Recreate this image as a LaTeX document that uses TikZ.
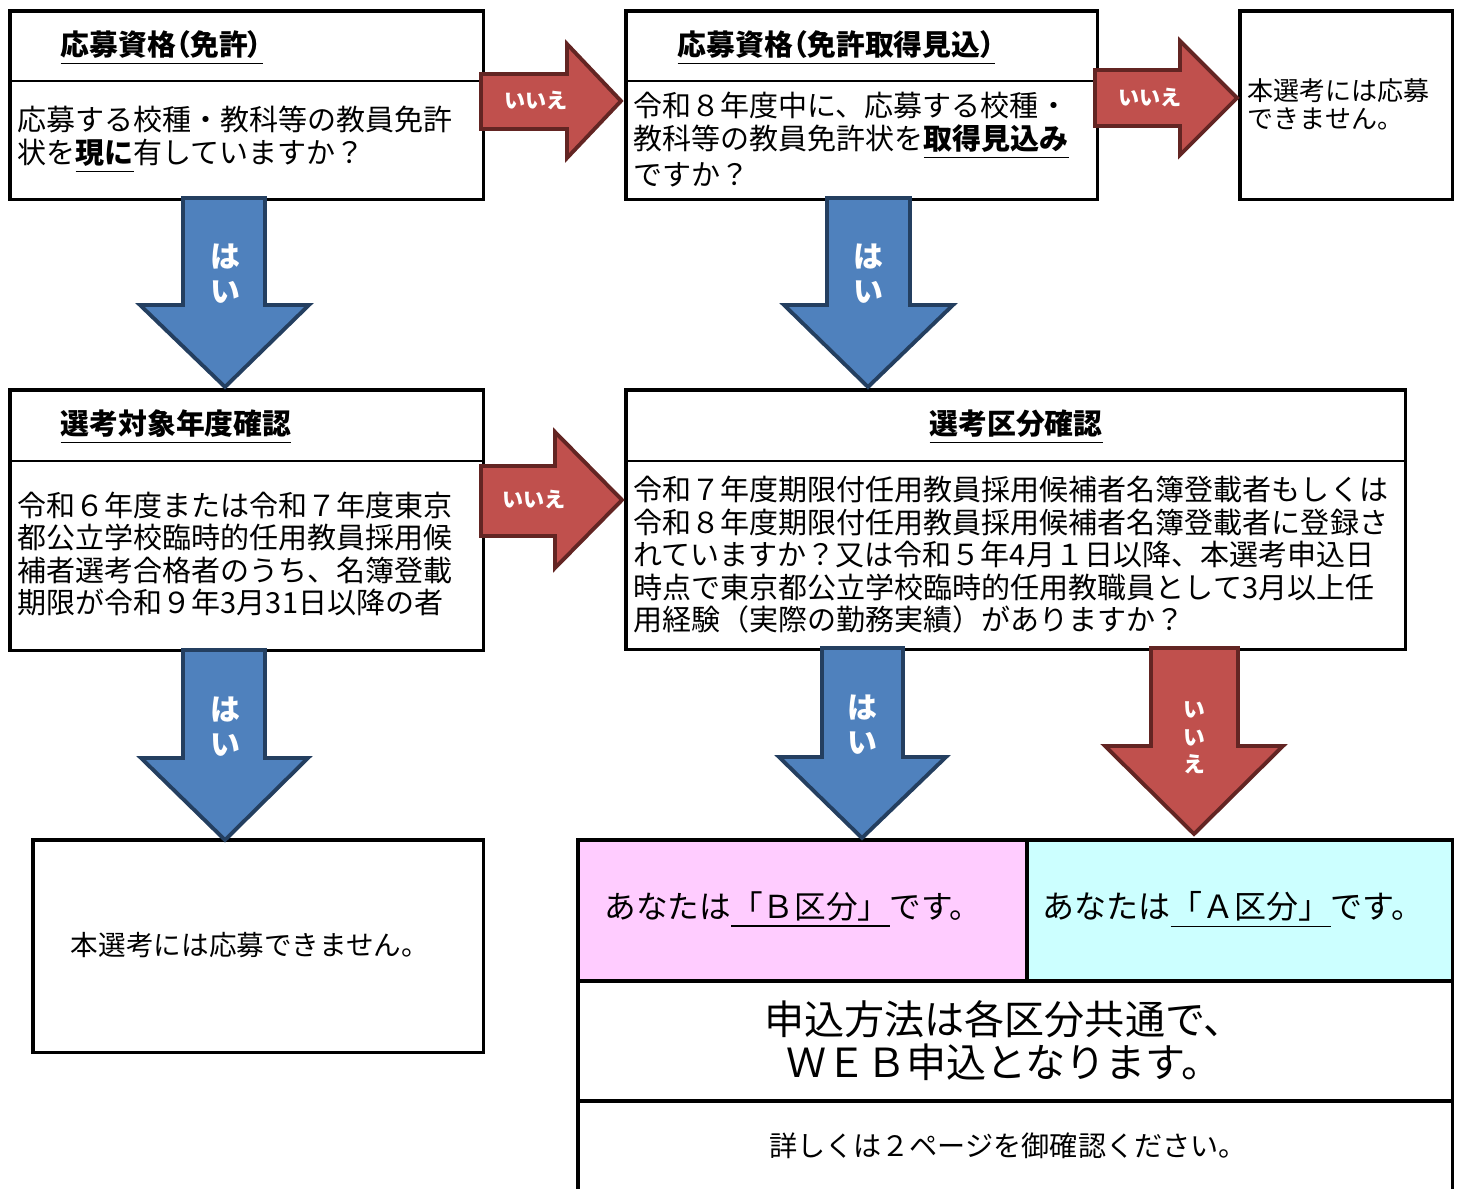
\documentclass[tikz,border=0pt]{standalone}
\usepackage{fontspec}
\setmainfont{Noto Sans CJK JP}
\definecolor{arrowblue}{HTML}{4F81BD}
\definecolor{arrowblueline}{HTML}{243F60}
\definecolor{arrowred}{HTML}{C0504D}
\definecolor{arrowredline}{HTML}{632523}
\definecolor{kubunpink}{HTML}{FFCCFF}
\definecolor{kubuncyan}{HTML}{CCFFFF}
\begin{document}
\begin{tikzpicture}[x=0.01cm,y=-0.01cm]
\tikzstyle{box}=[draw,line width=0.9pt,anchor=north west,outer sep=0,inner sep=0]
\tikzstyle{divider}=[line width=0.35pt]
\tikzstyle{body}=[anchor=west,align=left,inner sep=0,font=\fontsize{8.25}{9.25}\selectfont]
\tikzstyle{title}=[inner sep=0,font=\bfseries\fontsize{8.2}{9.25}\selectfont]
\tikzstyle{yes}=[draw=arrowblueline,fill=arrowblue,line width=1.1pt]
\tikzstyle{no}=[draw=arrowredline,fill=arrowred,line width=1.1pt]
\tikzstyle{yeslabel}=[text=white,align=center,inner sep=0,font=\bfseries\fontsize{8.5}{9.9}\selectfont]
\tikzstyle{nolabel}=[text=white,align=center,inner sep=0,font=\bfseries\fontsize{6}{7.8}\selectfont]
\useasboundingbox (0,0) rectangle (1460,1189);

% boxes
\node[box,minimum width=4.73cm,minimum height=1.88cm] (licA) at (10,11) {};
\node[box,minimum width=4.71cm,minimum height=1.88cm] (licB) at (626,11) {};
\node[box,minimum width=2.12cm,minimum height=1.88cm] (ngTop) at (1240,11) {};
\node[box,minimum width=4.73cm,minimum height=2.60cm] (yearD) at (10,390) {};
\node[box,minimum width=7.79cm,minimum height=2.59cm] (kubunE) at (626,390) {};
\node[box,minimum width=4.50cm,minimum height=2.12cm] (ngBot) at (33,840) {};
\node[box,fill=kubunpink,minimum width=4.49cm,minimum height=1.41cm] (cellB) at (578,840) {};
\node[box,fill=kubuncyan,minimum width=4.25cm,minimum height=1.41cm] (cellA) at (1027,840) {};
\node[box,minimum width=8.74cm,minimum height=1.20cm] (web) at (578,981) {};
\node[box,draw=none,minimum width=8.74cm,minimum height=0.88cm] (guide) at (578,1101) {};
\draw[line width=0.9pt] (guide.south west) -- (guide.north west) -- (guide.north east) -- (guide.south east);
\draw[divider] (licA.west |- 0,81) -- (licA.east |- 0,81);
\draw[divider] (licB.west |- 0,81) -- (licB.east |- 0,81);
\draw[divider] (yearD.west |- 0,461) -- (yearD.east |- 0,461);
\draw[divider] (kubunE.west |- 0,461) -- (kubunE.east |- 0,461);

% arrows
\draw[no] (481,74) -- (567,74) -- (567,44) -- (621,101) -- (567,158) -- (567,129) -- (481,129) -- cycle;
\draw[no] (1095,70) -- (1180,70) -- (1180,41) -- (1237,98) -- (1180,155) -- (1180,126) -- (1095,126) -- cycle;
\draw[no] (481,466) -- (555,466) -- (555,432) -- (622,500) -- (555,568) -- (555,536) -- (481,536) -- cycle;
\draw[yes] (183,198) -- (265,198) -- (265,305) -- (309,305) -- (225,387) -- (140,305) -- (183,305) -- cycle;
\draw[yes] (827,198) -- (910,198) -- (910,305) -- (953,305) -- (868,387) -- (784,305) -- (827,305) -- cycle;
\draw[yes] (183,650) -- (265,650) -- (265,758) -- (308,758) -- (225,840) -- (141,758) -- (183,758) -- cycle;
\draw[yes] (822,648) -- (903,648) -- (903,757) -- (946,757) -- (862,838) -- (779,757) -- (822,757) -- cycle;
\draw[no] (1151,648) -- (1238,648) -- (1238,746) -- (1283,746) -- (1194,834) -- (1105,746) -- (1151,746) -- cycle;
\node[nolabel] (noA) at (536,101) {いいえ};
\node[nolabel] (noB) at (1150,98) {いいえ};
\node[nolabel] (noD) at (534,500) {いいえ};
\node[yeslabel] (yesA) at (225,274) {は\\い};
\node[yeslabel] (yesB) at (868,274) {は\\い};
\node[yeslabel] (yesD) at (225,727) {は\\い};
\node[yeslabel] (yesE) at (862,725) {は\\い};
\node[nolabel,font=\bfseries\fontsize{6.2}{7.8}\selectfont] (noE) at (1194,738) {い\\い\\え};

% texts
\node[title,anchor=west,font=\bfseries\addfontfeatures{RawFeature=+palt}\fontsize{8.2}{9.25}\selectfont] (licAtitle) at (60,48) {\underline{応募資格（免許）}};
\node[body] (licAq) at (17,140) {応募する校種・教科等の教員免許\\状を\textbf{\underline{現に}}有していますか？};
\node[title,anchor=west,font=\bfseries\addfontfeatures{RawFeature=+palt}\fontsize{8.2}{9.25}\selectfont] (licBtitle) at (677,48) {\underline{応募資格（免許取得見込）}};
\node[body] (licBq) at (633,140) {令和８年度中に、応募する校種・\\教科等の教員免許状を\textbf{\underline{取得見込み}}\\ですか？};
\node[body,font=\fontsize{7.4}{8}\selectfont] (ngTopt) at (1247,104) {本選考には応募\\できません。};
\node[title,anchor=west] (yearDtitle) at (60,427) {\underline{選考対象年度確認}};
\node[body] (yearDq) at (17,554) {令和６年度または令和７年度東京\\都公立学校臨時的任用教員採用候\\補者選考合格者のうち、名簿登載\\期限が令和９年3月31日以降の者};
\node[title] (kubunEtitle) at (1016,427) {\underline{選考区分確認}};
\node[body] (kubunEq) at (633,555) {令和７年度期限付任用教員採用候補者名簿登載者もしくは\\令和８年度期限付任用教員採用候補者名簿登載者に登録さ\\れていますか？又は令和５年4月１日以降、本選考申込日\\時点で東京都公立学校臨時的任用教職員として3月以上任\\用経験（実際の勤務実績）がありますか？};
\node[inner sep=0,font=\fontsize{7.85}{9}\selectfont] (ngBott) at (250,945) {本選考には応募できません。};
\node[inner sep=0,font=\fontsize{9}{10}\selectfont] (cellBt) at (793,910) {あなたは\underline{「Ｂ区分」}です。};
\node[inner sep=0,font=\fontsize{9.1}{10}\selectfont] (cellAt) at (1233,910) {あなたは\underline{「Ａ区分」}です。};
\node[inner sep=0,align=center,font=\fontsize{11.4}{12.2}\selectfont] (webt) at (1004,1041) {申込方法は各区分共通で、\\ＷＥＢ申込となります。};
\node[inner sep=0,font=\fontsize{8}{9}\selectfont] (guidet) at (1008,1146) {詳しくは２ページを御確認ください。};
\end{tikzpicture}
\end{document}
